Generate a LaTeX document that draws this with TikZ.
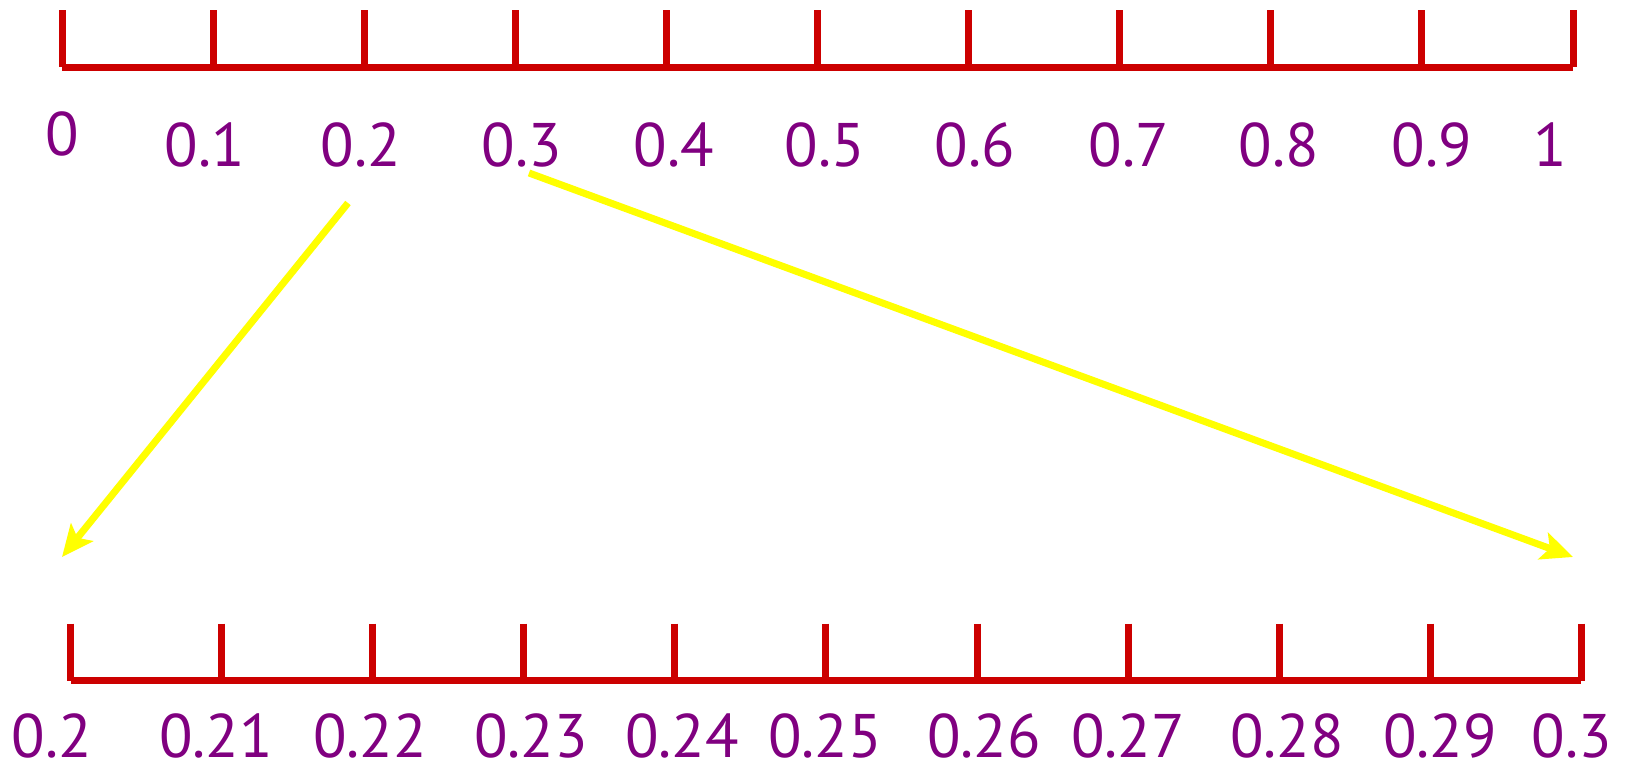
\documentclass[tikz,border=0pt]{standalone}
\usepackage{fontspec}
\setmainfont{PT Sans}
\usetikzlibrary{arrows.meta}
\definecolor{rulered}{RGB}{204,0,0}
\definecolor{labelpurple}{RGB}{128,0,128}
\definecolor{arrowyellow}{RGB}{255,255,0}

\begin{document}
\begin{tikzpicture}[
  x=0.01cm, y=-0.01cm,
  every node/.style={font=\fontsize{17.5}{19}\selectfont, text=labelpurple, inner sep=0pt},
  ruler/.style={draw=rulered, line width=2pt},
  arr/.style={-{Stealth[length=9pt, width=8pt, inset=2pt]}, draw=arrowyellow, line width=2pt}]

\useasboundingbox (0,0) rectangle (1627,765);

%% Upper ruler: 0 to 1
\coordinate (topL) at (62.3,67.4);
\coordinate (topR) at (1573.0,67.4);
\draw[ruler] (topL) -- (topR);
\foreach \i in {0,...,10}
  \draw[ruler] ({62.3+151.07*\i},10.4) -- ({62.3+151.07*\i},67.4);

\foreach \txt/\xx/\yy [count=\k from 0] in {0/62/134, 0.1/205/145, 0.2/361/145, 0.3/522/145,
    0.4/674/145, 0.5/825/145, 0.6/975/145, 0.7/1129/145, 0.8/1279/145, 0.9/1432/145, 1/1550/145}
  \node (t\k) at (\xx,\yy) {\txt};

%% Lower ruler: 0.2 to 0.3
\coordinate (botL) at (70.6,680.7);
\coordinate (botR) at (1581.3,680.7);
\draw[ruler] (botL) -- (botR);
\foreach \i in {0,...,10}
  \draw[ruler] ({70.6+151.07*\i},623.6) -- ({70.6+151.07*\i},680.7);

\foreach \txt/\xx [count=\k from 0] in {0.2/52, 0.21/216, 0.22/370, 0.23/531, 0.24/682,
    0.25/825, 0.26/984, 0.27/1128, 0.28/1287, 0.29/1440, 0.3/1572}
  \node (b\k) at (\xx,736) {\txt};

%% Zoom arrows
\coordinate (zoomA) at (348,203);
\coordinate (zoomB) at (529,173);
\coordinate (endA)  at (62,557);
\coordinate (endB)  at (1573,557);
\draw[arr] (zoomA) -- (endA);
\draw[arr] (zoomB) -- (endB);
\end{tikzpicture}
\end{document}
